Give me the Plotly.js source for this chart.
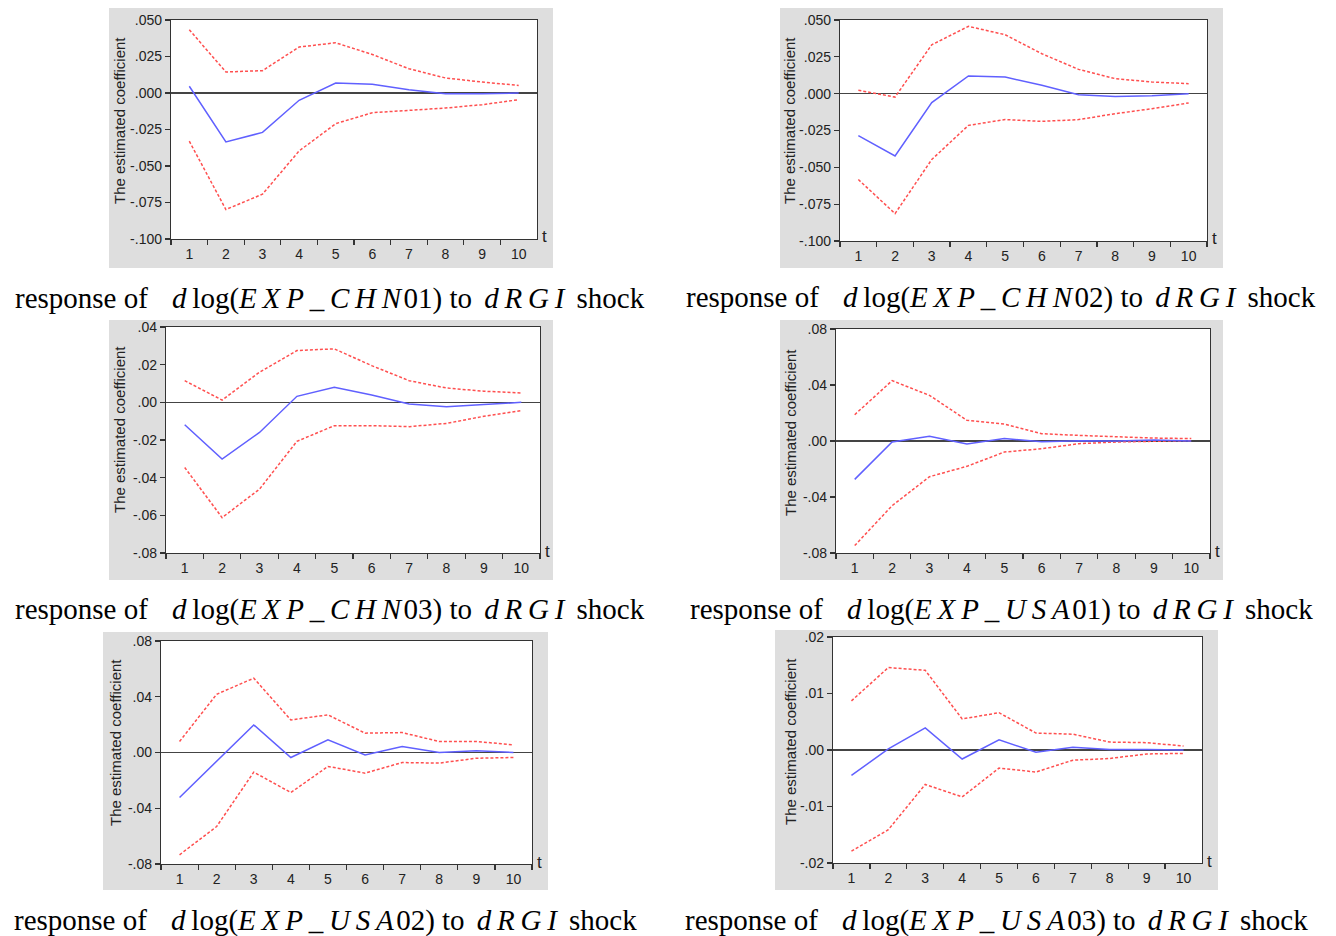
<!DOCTYPE html>
<html>
<head>
<meta charset="utf-8">
<script src="https://cdn.plot.ly/plotly-3.0.1.min.js"></script>
<style>html,body{margin:0;padding:0;background:#fff;}#chart{width:1336px;height:936px;}</style>
</head>
<body>
<div id="chart"></div>
<script>
// ---------- DATA ----------
const steps = ['1','2','3','4','5','6','7','8','9','10'];
const seriesNames = ['EXP_CHN01','EXP_CHN02','EXP_CHN03','EXP_USA01','EXP_USA02','EXP_USA03'];

const irf_CHN01   = [0.0046, -0.0335, -0.0270, -0.0050, 0.0068, 0.0060, 0.0023, -0.0005, -0.0005, 0.0000];
const upper_CHN01 = [0.0433, 0.0144, 0.0153, 0.0315, 0.0344, 0.0264, 0.0166, 0.0103, 0.0075, 0.0052];
const lower_CHN01 = [-0.0330, -0.0798, -0.0693, -0.0397, -0.0210, -0.0135, -0.0119, -0.0103, -0.0080, -0.0046];

const irf_CHN02   = [-0.0285, -0.0423, -0.0061, 0.0120, 0.0113, 0.0057, -0.0007, -0.0020, -0.0014, 0.0000];
const upper_CHN02 = [0.0023, -0.0023, 0.0332, 0.0457, 0.0400, 0.0271, 0.0165, 0.0102, 0.0079, 0.0068];
const lower_CHN02 = [-0.0583, -0.0814, -0.0447, -0.0215, -0.0176, -0.0188, -0.0176, -0.0136, -0.0102, -0.0063];

const irf_CHN03   = [-0.0119, -0.0301, -0.0160, 0.0032, 0.0080, 0.0039, -0.0009, -0.0023, -0.0012, 0.0000];
const upper_CHN03 = [0.0115, 0.0012, 0.0160, 0.0275, 0.0284, 0.0195, 0.0115, 0.0076, 0.0059, 0.0050];
const lower_CHN03 = [-0.0346, -0.0612, -0.0461, -0.0207, -0.0124, -0.0124, -0.0129, -0.0112, -0.0074, -0.0044];

const irf_USA01   = [-0.0274, -0.0007, 0.0033, -0.0021, 0.0017, -0.0005, 0.0002, 0.0000, 0.0007, 0.0000];
const upper_USA01 = [0.0188, 0.0431, 0.0326, 0.0148, 0.0121, 0.0052, 0.0040, 0.0029, 0.0021, 0.0017];
const lower_USA01 = [-0.0747, -0.0462, -0.0255, -0.0181, -0.0079, -0.0055, -0.0019, -0.0007, -0.0002, 0.0002];

const irf_USA02   = [-0.0323, -0.0065, 0.0198, -0.0036, 0.0091, -0.0017, 0.0043, 0.0000, 0.0012, 0.0000];
const upper_USA02 = [0.0079, 0.0418, 0.0533, 0.0234, 0.0270, 0.0139, 0.0143, 0.0079, 0.0079, 0.0055];
const lower_USA02 = [-0.0734, -0.0531, -0.0141, -0.0287, -0.0100, -0.0148, -0.0072, -0.0076, -0.0041, -0.0036];

const irf_USA03   = [-0.0045, 0.0002, 0.0039, -0.0016, 0.0018, -0.0004, 0.0005, 0.0001, 0.0001, 0.0000];
const upper_USA03 = [0.0087, 0.0146, 0.0141, 0.0055, 0.0066, 0.0030, 0.0028, 0.0014, 0.0013, 0.0007];
const lower_USA03 = [-0.0179, -0.0141, -0.0061, -0.0083, -0.0032, -0.0039, -0.0018, -0.0015, -0.0007, -0.0006];

const irfs   = [irf_CHN01, irf_CHN02, irf_CHN03, irf_USA01, irf_USA02, irf_USA03];
const uppers = [upper_CHN01, upper_CHN02, upper_CHN03, upper_USA01, upper_USA02, upper_USA03];
const lowers = [lower_CHN01, lower_CHN02, lower_CHN03, lower_USA01, lower_USA02, lower_USA03];

const yTickVals_A = [-0.1, -0.075, -0.05, -0.025, 0, 0.025, 0.05];
const yTickText_A = ['-.100', '-.075', '-.050', '-.025', '.000', '.025', '.050'];
const yTickVals_B = [-0.08, -0.06, -0.04, -0.02, 0, 0.02, 0.04];
const yTickText_B = ['-.08', '-.06', '-.04', '-.02', '.00', '.02', '.04'];
const yTickVals_C = [-0.08, -0.04, 0, 0.04, 0.08];
const yTickText_C = ['-.08', '-.04', '.00', '.04', '.08'];
const yTickVals_D = [-0.02, -0.01, 0, 0.01, 0.02];
const yTickText_D = ['-.02', '-.01', '.00', '.01', '.02'];

const yTickValsByPanel = [yTickVals_A, yTickVals_A, yTickVals_B, yTickVals_C, yTickVals_C, yTickVals_D];
const yTickTextByPanel = [yTickText_A, yTickText_A, yTickText_B, yTickText_C, yTickText_C, yTickText_D];

const yAxisTitle = 'The estimated coefficient';
const xAxisLabel = 't';
const shockName = 'dRGI';

// ---------- LAYOUT GEOMETRY (pixels) ----------
const W = 1336, H = 936;
const geom = [
  {plot:[171,537,20,239],  box:[109,553,8,268],   title:[120,121], cap:[330,298]},
  {plot:[840,1207,20,241], box:[780,1223,8,268],  title:[790,121], cap:[1001,297]},
  {plot:[166,540,327,553], box:[109,553,320,580], title:[120,430], cap:[330,609]},
  {plot:[836,1210,329,553],box:[780,1223,320,580],title:[790,433], cap:[1001,609]},
  {plot:[161,532,641,864], box:[103,548,632,890], title:[115,743], cap:[325,920]},
  {plot:[833,1202,637,863],box:[775,1218,630,890],title:[790,742], cap:[996,920]}
];
const px = x => x / W;
const py = y => 1 - y / H;

// math-style spacing helpers (emulating LaTeX math italic letter spacing)
const SP_THIN = '\u2009', SP_HAIR = '\u200A', SP_EN = '\u2002', SP_MID = '\u2006';
const mathSpaced = (s, sp) => s.split('').join(sp);

function caption(name) {
  const m = name.match(/^(.*?)(\d+)$/);
  return 'response of ' + SP_EN + SP_HAIR + '<i>d</i>' + SP_THIN + 'log(' +
    '<i>' + mathSpaced(m[1], SP_THIN) + '</i>' + SP_HAIR + m[2] + ') to ' + SP_MID +
    '<i>' + mathSpaced(shockName, SP_THIN) + '</i>' + SP_MID + ' shock';
}

const traces = [];
const layout = {
  width: W, height: H,
  margin: {l:0, r:0, t:0, b:0},
  paper_bgcolor: '#ffffff',
  plot_bgcolor: 'rgba(0,0,0,0)',
  showlegend: false,
  font: {family: 'Liberation Sans, Arial, sans-serif', color: '#222'},
  shapes: [],
  annotations: []
};

const BLUE = '#6060ff';
const RED = '#ff4f4f';

for (let i = 0; i < 6; i++) {
  const g = geom[i];
  const sx = i === 0 ? '' : String(i + 1);
  const xa = 'x' + sx, ya = 'y' + sx;
  const vals = yTickValsByPanel[i];

  traces.push({x: steps, y: uppers[i], xaxis: xa, yaxis: ya, type: 'scatter', mode: 'lines',
    line: {color: RED, width: 1.5, dash: '3px,2px'}, name: 'upper', hoverinfo: 'y'});
  traces.push({x: steps, y: lowers[i], xaxis: xa, yaxis: ya, type: 'scatter', mode: 'lines',
    line: {color: RED, width: 1.5, dash: '3px,2px'}, name: 'lower', hoverinfo: 'y'});
  traces.push({x: steps, y: irfs[i], xaxis: xa, yaxis: ya, type: 'scatter', mode: 'lines',
    line: {color: BLUE, width: 1.5}, name: seriesNames[i], hoverinfo: 'y'});

  layout['xaxis' + sx] = {
    domain: [px(g.plot[0]), px(g.plot[1])],
    anchor: ya, type: 'category', range: [-0.5, 9.5],
    tickson: 'boundaries', ticks: 'outside', ticklen: 5, tickwidth: 1.2, tickcolor: '#333',
    ticklabelstandoff: 2,
    showline: true, linecolor: '#333', linewidth: 1.2, mirror: true,
    showgrid: false, zeroline: false,
    tickfont: {size: 14, color: '#222'}
  };
  layout['yaxis' + sx] = {
    domain: [py(g.plot[3]), py(g.plot[2])],
    anchor: xa, range: [vals[0], vals[vals.length - 1]],
    tickmode: 'array', tickvals: vals, ticktext: yTickTextByPanel[i],
    ticks: 'outside', ticklen: 5, tickwidth: 1.2, tickcolor: '#333',
    showline: true, linecolor: '#333', linewidth: 1.2, mirror: true,
    showgrid: false, zeroline: true, zerolinecolor: '#444', zerolinewidth: 1.5,
    tickfont: {size: 14, color: '#222'}
  };

  // gray panel and white plot area
  layout.shapes.push({type: 'rect', xref: 'paper', yref: 'paper', layer: 'below',
    x0: px(g.box[0]), x1: px(g.box[1]), y0: py(g.box[3]), y1: py(g.box[2]),
    fillcolor: '#dedede', line: {width: 0}});
  layout.shapes.push({type: 'rect', xref: 'paper', yref: 'paper', layer: 'below',
    x0: px(g.plot[0]), x1: px(g.plot[1]), y0: py(g.plot[3]), y1: py(g.plot[2]),
    fillcolor: '#ffffff', line: {width: 0}});

  // y-axis title
  layout.annotations.push({xref: 'paper', yref: 'paper', x: px(g.title[0]), y: py(g.title[1]),
    text: yAxisTitle, textangle: -90, showarrow: false, xanchor: 'center', yanchor: 'middle',
    font: {size: 15, color: '#222', family: 'Liberation Sans, Arial, sans-serif'}});
  // 't' label
  layout.annotations.push({xref: xa + ' domain', yref: ya + ' domain', x: 1, y: 0,
    xanchor: 'left', yanchor: 'middle', xshift: 3, yshift: 2, text: xAxisLabel, showarrow: false,
    font: {size: 17, color: '#222', family: 'Liberation Sans, Arial, sans-serif'}});
  // caption
  layout.annotations.push({xref: 'paper', yref: 'paper', x: px(g.cap[0]), y: py(g.cap[1]),
    xanchor: 'center', yanchor: 'middle', text: caption(seriesNames[i]), showarrow: false,
    font: {size: 29, color: '#000', family: 'Liberation Serif, Times New Roman, serif'}});
}

Plotly.newPlot('chart', traces, layout, {staticPlot: true, displayModeBar: false});
</script>
</body>
</html>
